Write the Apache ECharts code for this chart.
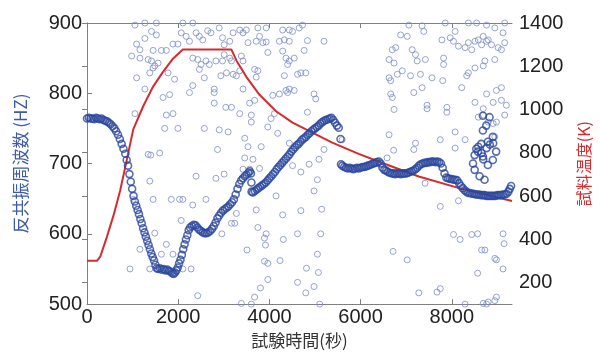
<!DOCTYPE html>
<html>
<head>
<meta charset="utf-8">
<script src="https://cdn.jsdelivr.net/npm/echarts@6/dist/echarts.min.js"></script>
<style>
  html, body { margin: 0; background: #fff; }
  #chart { width: 600px; height: 354px; }
</style>
</head>
<body>
<div id="chart"></div>
<script>
// 反共振周波数の主な推移 [試験時間(秒), 周波数(Hz)]
const trendPoints = [
  [0,764],[40,765],[80,764],[120,764],[160,763],[200,765],[240,764],[280,763],[320,764],[360,762],
  [400,761],[440,760],[480,758],[520,756],[560,753],[600,750],[640,746],[680,741],[720,735],[760,728],
  [800,721],[840,714],[870,705],[900,697],[930,685],[960,674],[990,664],[1020,654],[1050,646],[1080,640],
  [1110,634],[1140,628],[1170,621],[1200,615],[1230,608],[1260,602],[1290,596],[1320,590],[1350,584],[1380,578],
  [1410,572],[1440,567],[1470,562],[1500,556],[1530,551],[1560,550],[1600,551],[1640,549],[1680,550],[1720,548],
  [1760,549],[1800,547],[1840,546],[1870,544],[1900,543],[1930,545],[1960,548],[1990,552],[2020,558],[2050,563],
  [2080,570],[2110,578],[2140,585],[2170,592],[2200,598],[2230,605],[2260,609],[2300,611],[2340,613],[2380,612],
  [2420,609],[2460,606],[2500,604],[2540,602],[2580,601],[2620,601],[2660,602],[2700,604],[2740,607],[2780,611],
  [2820,616],[2860,622],[2900,626],[2940,630],[2980,633],[3020,635],[3060,637],[3100,639],[3140,642],[3180,645],
  [3220,649],[3260,656],[3300,664],[3340,671],[3380,676],[3420,679],[3460,682],[3500,684],[3540,687],[3570,689],
  [3595,686],[3605,673],[3610,660],[3640,659],[3680,661],[3720,663],[3760,665],[3800,667],[3840,669],[3880,671],
  [3920,673],[3960,676],[4000,679],[4040,682],[4080,685],[4120,688],[4160,692],[4200,695],[4240,698],[4280,701],
  [4320,704],[4360,707],[4400,710],[4440,713],[4480,717],[4520,720],[4560,723],[4600,726],[4640,728],[4680,731],
  [4720,734],[4760,736],[4800,738],[4840,741],[4880,743],[4920,746],[4960,748],[5000,750],[5040,752],[5080,754],
  [5120,757],[5160,759],[5200,761],[5240,762],[5280,763],[5320,764],[5360,765],[5400,762],[5440,758],[5480,754],
  [5520,751],[5560,735],[5570,699],[5600,697],[5640,695],[5680,694],[5720,693],[5760,694],[5800,693],[5840,692],
  [5880,693],[5920,694],[5960,693],[6000,694],[6040,695],[6080,695],[6120,696],[6160,697],[6200,698],[6240,699],
  [6280,700],[6320,701],[6360,702],[6400,703],[6440,700],[6480,694],[6520,691],[6560,690],[6600,688],[6640,687],
  [6680,686],[6720,686],[6760,685],[6800,686],[6840,686],[6880,685],[6920,686],[6960,686],[7000,686],[7040,687],
  [7080,688],[7120,689],[7160,690],[7200,692],[7240,694],[7280,697],[7320,699],[7360,700],[7400,701],[7440,701],
  [7480,702],[7520,702],[7560,703],[7600,703],[7640,702],[7680,703],[7720,702],[7760,700],[7800,694],[7840,686],
  [7880,680],[7920,679],[7960,678],[8000,678],[8040,677],[8080,677],[8120,676],[8160,672],[8200,668],[8240,665],
  [8280,662],[8320,660],[8360,658],[8400,658],[8440,657],[8480,657],[8520,656],[8560,656],[8600,656],[8640,655],
  [8680,655],[8720,655],[8760,654],[8800,654],[8840,654],[8880,654],[8920,654],[8960,654],[9000,655],[9040,655],
  [9080,655],[9120,656],[9160,656],[9200,657],[9240,660],[9270,664],[9300,668]
];

// 終盤の渦状のかたまり
const curlPoints = [
  [8537,721],[8646,728],[8791,731],[8900,738],[8501,712],[8465,700],[8501,691],[8610,682],[8718,677],[8791,698],
  [8900,705],[8972,717],[8573,717],[8682,710],[8682,747],[8755,754],[8682,768],[8827,766],[8581,724],[8653,715],
  [8762,722],[8834,727],[8907,729],[8689,706]
];

// ばらついた測定点
const scatterPoints = [
  [1051,897],[1269,900],[1522,900],[2102,900],[2320,900],[1414,888],[1522,883],[1269,878],[1088,870],[1160,862],
  [1450,861],[1631,861],[1740,861],[1885,870],[1993,870],[979,853],[1160,850],[1341,848],[1414,846],[1559,843],
  [1486,839],[1450,836],[2066,886],[2175,881],[2247,874],[2392,886],[2464,881],[2537,876],[2646,889],[2718,886],
  [2899,893],[2972,879],[3008,869],[2320,850],[2428,848],[2501,841],[2464,834],[2609,846],[2682,841],[2827,846],
  [2972,846],[3008,855],[1088,822],[1377,829],[1776,829],[1921,820],[1269,806],[1667,794],[1812,798],[2247,801],
  [2320,811],[2573,822],[2935,825],[2790,806],[2790,801],[2790,786],[3044,780],[1051,771],[1740,769],[1885,771],
  [1704,750],[1993,750],[2573,750],[2899,748],[1341,713],[1595,715],[2863,720],[1399,712],
  [3204,886],[3349,890],[3421,886],[3494,890],[3747,893],[3929,893],[4291,890],[4436,890],[4508,888],[4653,893],
  [4726,897],[3131,874],[3530,872],[3711,874],[3784,881],[3856,872],[3929,873],[4219,874],[4327,876],[4436,874],
  [4835,875],[5197,874],[3965,858],[4291,860],[4762,861],[4363,850],[4436,846],[4545,850],[4400,841],[3131,850],
  [3168,846],[3385,853],[3421,846],[3059,829],[3204,827],[3276,825],[3349,832],[3675,834],[3747,832],[3711,823],
  [4327,825],[4617,827],[4690,829],[4798,829],[3421,806],[4436,806],[4545,804],[4363,804],[4979,799],[5016,792],
  [4074,797],[4219,799],[4400,801],[3566,786],[3675,790],[3349,771],[3603,769],[3603,759],[4110,771],[4037,764],
  [4835,773],[3168,780],[3095,745],[3458,736],[3965,752],[4182,743],[3530,724],[3820,724],[4436,729],[3458,708],
  [3639,706],[5088,706],[5197,720],[5595,734],
  [7059,897],[7349,896],[7856,900],[8363,900],[8544,900],[8762,897],[9160,900],[8943,893],[9124,886],[6877,883],
  [7022,881],[7385,888],[7783,876],[7965,879],[8073,888],[8037,874],[8146,867],[8291,865],[8363,872],[8436,862],
  [8508,874],[8581,876],[8689,881],[8798,876],[8653,869],[8762,874],[8870,869],[9015,865],[9160,872],[9088,862],
  [6696,862],[6769,865],[7131,862],[7204,855],[6624,848],[6733,843],[7240,846],[7421,848],[7820,850],[7820,841],
  [8725,846],[8689,839],[8943,848],[6914,832],[6805,827],[6624,822],[6660,818],[7095,825],[7312,827],[7566,822],
  [7801,818],[8363,829],[8327,825],[8508,836],[7349,808],[7167,801],[8218,808],[8979,804],[9088,808],[8762,799],
  [6660,799],[6696,794],[6733,777],[7457,783],[7457,778],[7892,780],[7892,773],[8508,787],[8689,778],[8907,787],
  [9088,790],[9197,783],[8581,766],[8689,769],[8798,759],[8907,757],[8979,759],[9160,769],[6624,741],[7747,734],
  [8073,745],[8291,734],[8943,738],[7204,729],[7167,720],[8073,722],
  [2392,682],[2827,679],[3008,685],[1377,675],[1015,649],[1450,649],[1848,649],[2030,649],[2102,649],[2320,641],
  [2609,649],[2066,619],[1486,601],[1160,578],[1740,585],[1631,571],[1885,571],[943,550],[1377,550],[2102,550],
  [2283,550],[2428,512],[2957,600],
  [3421,692],[3566,692],[3784,693],[4508,697],[4690,688],[4871,699],[5052,677],[4979,661],[4146,654],[3711,634],
  [3276,629],[4291,627],[4690,633],[5146,635],[3168,615],[3240,615],[3747,609],[3929,600],[3892,594],[4617,600],
  [5124,600],[4305,592],[3914,584],[3508,577],[5052,571],[3892,561],[3965,558],[4233,562],[4813,551],[5074,545],
  [3965,535],[4617,531],[4979,525],[4798,516],[3805,523],[3675,510],[3385,501],[3603,500],[5103,500],
  [7747,639],[8146,647],[8037,599],[8182,592],[8436,599],[8566,600],[9124,600],[9146,586],[8653,577],[8725,577],
  [6711,575],[7022,563],[8943,565],[8979,563],[9124,550],[8566,544],[7276,516],[7675,517],[7747,522],[8291,500],
  [8689,501],[8798,503],[8943,505],[8979,510],[8762,500],
  [6725,719],[6580,708],[7414,672]
];

// 試料温度 [試験時間(秒), 温度(K)]
const tempPoints = [
  [0,300],[218,300],[290,319],[435,410],[580,509],[725,623],[834,729],[1015,908],[1232,1015],[1450,1106],
  [1667,1174],[1885,1235],[2102,1277],[3168,1277],[3276,1227],[3494,1151],[3784,1068],[4146,992],[4508,939],
  [4943,893],[5378,847],[5958,795],[6450,755],[7276,690],[8200,634],[9320,577]
];

const xTickValues = [0, 2000, 4000, 6000, 8000];
const tempTickValues = [200, 400, 600, 800, 1000, 1200, 1400];

const blueDark = '#2b479c';
const blueLight = '#7d8cc8';
const red = '#d52b2f';
const axisGray = '#7f7f7f';
const labelFont = { color: '#222', fontSize: 20, fontFamily: 'Liberation Sans' };
const plain = v => String(v);

const chart = echarts.init(document.getElementById('chart'));
chart.setOption({
  animation: false,
  backgroundColor: '#fff',
  grid: { left: 87, right: 84, top: 23, bottom: 46 },
  xAxis: [
    {
      type: 'value', min: 0, max: 9320,
      name: '試験時間(秒)', nameLocation: 'middle', nameGap: 24,
      nameTextStyle: { color: '#333', fontSize: 17, fontFamily: 'Noto Sans CJK JP' },
      axisLine: { lineStyle: { color: axisGray } },
      axisTick: { inside: true, length: 5, customValues: xTickValues, lineStyle: { color: axisGray } },
      axisLabel: Object.assign({ margin: 3, customValues: xTickValues, formatter: plain }, labelFont),
      splitLine: { show: false }
    },
    {
      type: 'value', position: 'top', min: 0, max: 9320,
      axisLine: { show: true, lineStyle: { color: axisGray } },
      axisTick: { inside: true, length: 5, customValues: xTickValues, lineStyle: { color: axisGray } },
      axisLabel: { show: false },
      splitLine: { show: false }
    }
  ],
  yAxis: [
    {
      type: 'value', min: 500, max: 900, interval: 100,
      name: '反共振周波数 (HZ)', nameLocation: 'middle', nameRotate: 90, nameGap: 58,
      nameTextStyle: { color: '#3d5aa8', fontSize: 17, fontFamily: 'Noto Sans CJK JP' },
      axisLine: { show: true, lineStyle: { color: axisGray } },
      axisTick: { show: true, inside: true, length: 5, lineStyle: { color: axisGray } },
      axisLabel: Object.assign({ margin: 5 }, labelFont),
      splitLine: { show: false }
    },
    {
      type: 'value', position: 'right', min: 100, max: 1400,
      name: '試料温度(K)', nameLocation: 'middle', nameRotate: 90, nameGap: 64,
      nameTextStyle: { color: red, fontSize: 16, fontFamily: 'Noto Sans CJK JP' },
      axisLine: { show: true, lineStyle: { color: axisGray } },
      axisTick: { show: true, inside: true, length: 5, customValues: tempTickValues, lineStyle: { color: axisGray } },
      axisLabel: Object.assign({ margin: 7, customValues: tempTickValues, formatter: plain }, labelFont),
      splitLine: { show: false }
    }
  ],
  series: [
    {
      type: 'scatter', data: scatterPoints, symbol: 'circle', symbolSize: 6, z: 2,
      itemStyle: { color: 'transparent', borderColor: blueLight, borderWidth: 1 }
    },
    {
      type: 'line', data: tempPoints, yAxisIndex: 1, showSymbol: false, z: 3,
      lineStyle: { color: red, width: 2 }
    },
    {
      type: 'scatter', data: trendPoints.concat(curlPoints), symbol: 'circle', symbolSize: 7, z: 4,
      itemStyle: { color: 'transparent', borderColor: blueDark, borderWidth: 1.6 }
    }
  ]
});
</script>
</body>
</html>
